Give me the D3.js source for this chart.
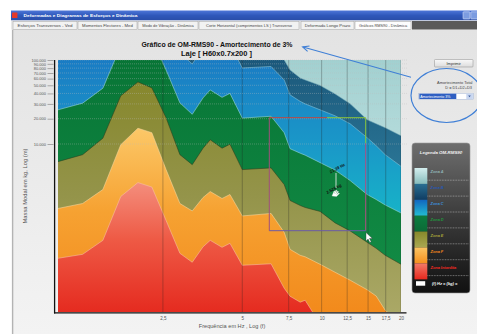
<!DOCTYPE html>
<html><head><meta charset="utf-8">
<script src="https://cdn.jsdelivr.net/npm/d3@7/dist/d3.min.js"></script>
<style>
html,body{margin:0;padding:0;background:#fff;overflow:hidden}
svg{display:block}
</style></head><body>
<svg id="chart" width="477" height="334"></svg>
<script>
// ---------- DATA ----------
const freqs = [1.00,1.24,1.48,1.73,2.01,2.27,2.57,2.90,3.23,3.55,3.78,4.19,4.49,5.00,6.43,7.21,7.59,8.29,8.66,9.87,11.25,12.83,14.88,16.10,17.42,20.00];
const zonaInterditaTop = [436,486,713,2371,3474,3073,1231,500,391,597,713,589,657,360,375,192,154,131,138,72,48,30,20,17,14,10];
const zonaFTop = [1708,1958,2870,9805,15400,13620,4955,1958,1595,2307,2717,2245,2504,1392,1490,887,557,473,454,370,297,239,184,155,105,72];
const zonaETop = [6166,7465,11720,37410,54830,46540,20510,7465,5681,8912,11240,8912,9940,4955,5191,3290,2125,1854,1755,1574,1150,924,675,573,473,370];
const zonaDTop = [25520,30640,46170,146600,214800,182400,76100,30890,22570,35420,44070,35910,40050,20340,21370,13620,8791,7777,7364,6000,4888,3669,2504,2184,1879,1510];
const zonaCTop = [108500,124400,182400,574000,842000,714600,298200,121100,89650,138800,172700,142600,154800,80375,83740,57910,38450,32180,30060,25520,21660,17410,11880,9541,7465,5423];
const zonaBTop = [250000,280000,400000,1000000,1500000,1300000,600000,250000,180000,280000,350000,290000,310000,160000,165000,100000,76100,61170,57910,49830,39510,30060,19420,17410,15610,12550];
const zoneNames = ["Zona A","Zona B","Zona C","Zona D","Zona E","Zona F","Zona Interdita"];
const xTicks = [2.5,5,7.5,10,12.5,15,17.5,20];
const yTicks = [10000,20000,30000,40000,50000,60000,70000,80000,90000,100000];
const tabLabels = ["Esforços Transversos  -  Ved","Momentos Flectores  - Med","Modo de Vibração - Dinâmica","Corte Horizontal (comprimentos LS )  Transverso","Deformada Longo Prazo","Gráficos RMS90 - Dinâmica"];
const windowTitle = "Deformadas e Diagramas de Esforços e Dinâmica";
const chartTitle = "Gráfico de OM-RMS90 - Amortecimento de 3%";
const chartSubtitle = "Laje [  H60x0.7x200  ]";
const xTitle = "Frequência em  Hz , Log (f)";
const yTitle = "Massa Modal  em  kg,  Log (m)";
const legendTitle = "Legenda OM-RMS90";
const cursorFreq = "21.39 Hz", cursorMass = "2.526 kg";

// ---------- SETUP ----------
const FONT = "'Liberation Sans', Arial, sans-serif";
const svg = d3.select("#chart").attr("font-family", FONT);
const defs = svg.append("defs");
function grad(id, y1, y2, stops, bbox){
  const g = defs.append("linearGradient").attr("id", id).attr("x1",0).attr("x2",0);
  if(!bbox) g.attr("gradientUnits","userSpaceOnUse").attr("y1",y1).attr("y2",y2);
  else g.attr("y1",0).attr("y2",1);
  stops.forEach(([o,c])=>g.append("stop").attr("offset",o).attr("stop-color",c));
}

// ---------- WINDOW CHROME ----------
svg.append("rect").attr("width",477).attr("height",334).attr("fill","#fff");
grad("bgGrad",30,334,[[0,"#e3e3e3"],[1,"#f3f3f3"]]);
svg.append("rect").attr("x",12).attr("y",29.5).attr("width",465).attr("height",305).attr("fill","url(#bgGrad)");
svg.append("line").attr("x1",12.6).attr("x2",12.6).attr("y1",29.5).attr("y2",334).attr("stroke","#b3b3b3").attr("stroke-width",1.4);

grad("tbGrad",10.5,20.5,[[0,"#4d76d8"],[0.5,"#2f58ba"],[1,"#2a4ea8"]]);
svg.append("rect").attr("x",11).attr("y",10.5).attr("width",466).attr("height",10).attr("fill","url(#tbGrad)");
svg.append("rect").attr("x",12).attr("y",12.6).attr("width",5.4).attr("height",5.4).attr("rx",0.6).attr("fill","#e5392a");
svg.append("text").attr("x",23.5).attr("y",17.3).attr("font-size",4.3).attr("font-weight","bold").attr("fill","#fff")
  .attr("textLength",114).attr("lengthAdjust","spacingAndGlyphs").text(windowTitle);
[[463,7],[470.8,7]].forEach(([bx,bw])=>svg.append("rect").attr("x",bx).attr("y",11.8).attr("width",bw).attr("height",7.2).attr("rx",0.8)
  .attr("fill","#7c9ce0").attr("stroke","#e8efff").attr("stroke-width",0.5));

// tabs
svg.append("rect").attr("x",11).attr("y",20.5).attr("width",466).attr("height",9).attr("fill","#e9e9e9");
const tabX = [[13,77],[78,137],[138,198],[199,299],[301,354],[355,411]];
svg.append("rect").attr("x",412).attr("y",21).attr("width",65).attr("height",8.5).attr("fill","#5a5a5a");
tabLabels.forEach((t,i)=>{
  const [a,b] = tabX[i];
  svg.append("rect").attr("x",a).attr("y",21.3).attr("width",b-a).attr("height",8.2)
    .attr("fill", i===5 ? "#fdfdfd" : "#f2f2f2").attr("stroke","#a0a0a0").attr("stroke-width",0.5);
  svg.append("text").attr("x",(a+b)/2).attr("y",26.9).attr("text-anchor","middle").attr("font-size",3.5).attr("fill","#444")
    .attr("textLength",(b-a)*0.86).attr("lengthAdjust","spacingAndGlyphs").text(t);
});

// ---------- CHART ----------
const pl = 58, pr = 401, pt = 60, pb = 312;
const x = d3.scaleLog().domain([1,20]).range([pl,pr]);
const y = d3.scaleLog().domain([100,100000]).range([pb,pt]);

defs.append("clipPath").attr("id","plotClip").append("rect").attr("x",pl).attr("y",pt).attr("width",pr-pl).attr("height",pb-pt);

grad("gA",60,150,[[0,"#a2d0d0"],[1,"#b6dcdc"]]);
grad("gB",60,170,[[0,"#1b587b"],[1,"#2a7595"]]);
grad("gC",60,215,[[0,"#1a7cc4"],[0.55,"#1a98c8"],[1,"#17b3c8"]]);
grad("gD",60,265,[[0,"#087536"],[1,"#118a44"]]);
grad("gE",80,312,[[0,"#86872c"],[0.5,"#94944a"],[1,"#aaa866"]]);
grad("gF",128,312,[[0,"#fcc868"],[0.45,"#f6a232"],[1,"#f28a1c"]]);
grad("gR",180,312,[[0,"#f4907f"],[0.45,"#ee5a45"],[1,"#e52b20"]]);

const zones = [
  {top: zonaBTop, fill:"url(#gB)", line:"#6fa6b4"},
  {top: zonaCTop, fill:"url(#gC)", line:"#8cc6d8"},
  {top: zonaDTop, fill:"url(#gD)", line:"#a6dce4"},
  {top: zonaETop, fill:"url(#gE)", line:"#2e3a1c"},
  {top: zonaFTop, fill:"url(#gF)", line:"#fcd9a2"},
  {top: zonaInterditaTop, fill:"url(#gR)", line:"#f8c4aa"}
];

const gPlot = svg.append("g").attr("clip-path","url(#plotClip)");
gPlot.append("rect").attr("x",pl).attr("y",pt).attr("width",pr-pl).attr("height",pb-pt).attr("fill","url(#gA)");
const area = d3.area().x((d,i)=>x(freqs[i])).y0(pb+20).y1(d=>y(d));
const line = d3.line().x((d,i)=>x(freqs[i])).y(d=>y(d));
zones.forEach(z=>{
  gPlot.append("path").datum(z.top).attr("d",area).attr("fill",z.fill);
});
zones.forEach(z=>{
  gPlot.append("path").datum(z.top).attr("d",line).attr("fill","none").attr("stroke",z.line).attr("stroke-width",0.6).attr("opacity",0.9);
});

// vertical gridlines
gPlot.selectAll(".vg").data(xTicks).enter().append("line")
  .attr("x1",d=>x(d)).attr("x2",d=>x(d)).attr("y1",pt).attr("y2",pb)
  .attr("stroke","#1e1e1e").attr("stroke-opacity",0.32).attr("stroke-width",0.9);
// horizontal dotted gridlines
svg.append("g").selectAll("line").data(yTicks).enter().append("line")
  .attr("x1",pl).attr("x2",407).attr("y1",d=>y(d)).attr("y2",d=>y(d))
  .attr("stroke","#bdbdbd").attr("stroke-opacity",0.6).attr("stroke-width",0.6).attr("stroke-dasharray","1,1");

// axes
const yAxis = d3.axisLeft(y).tickValues(yTicks).tickSize(6).tickPadding(1.6)
  .tickFormat(d=>d3.format(",")(d).replace(/,/g,"."));
const gy = svg.append("g").attr("transform","translate(53.5,0)").call(yAxis)
  .attr("font-size",4).attr("font-family",FONT);
gy.select(".domain").remove();
gy.selectAll("line").attr("stroke","#7a7a7a").attr("stroke-width",0.6);
gy.selectAll("text").attr("fill","#555");

const xAxis = d3.axisBottom(x).tickValues(xTicks).tickSize(0).tickPadding(3.9)
  .tickFormat(d=>String(d).replace(".",","));
const gx = svg.append("g").attr("transform",`translate(0,${pb+1})`).call(xAxis)
  .attr("font-size",4.5).attr("font-family",FONT);
gx.select(".domain").remove();
gx.selectAll("text").attr("fill","#555");

svg.append("line").attr("x1",54.6).attr("x2",54.6).attr("y1",pt).attr("y2",pb+1.5).attr("stroke","#111").attr("stroke-width",1.3);
svg.append("line").attr("x1",54).attr("x2",406.5).attr("y1",pb+0.9).attr("y2",pb+0.9).attr("stroke","#111").attr("stroke-width",1.3);

svg.append("text").attr("x",232).attr("y",328).attr("text-anchor","middle").attr("font-size",5.6).attr("fill","#555").text(xTitle);
svg.append("text").attr("transform","translate(27,186) rotate(-90)").attr("text-anchor","middle").attr("font-size",5.8).attr("fill","#555").text(yTitle);

// titles
svg.append("text").attr("x",217).attr("y",47.4).attr("text-anchor","middle").attr("font-size",6.8).attr("font-weight","bold").attr("fill","#111")
  .attr("textLength",151).attr("lengthAdjust","spacingAndGlyphs").text(chartTitle);
svg.append("text").attr("x",216.5).attr("y",55.8).attr("text-anchor","middle").attr("font-size",6.8).attr("font-weight","bold").attr("fill","#111")
  .attr("textLength",71).attr("lengthAdjust","spacingAndGlyphs").text(chartSubtitle);

// selection rectangle annotation
const sel = {x0: 269.3, x1: 365.7, y0: 117.7, y1: 230.7, xm: 327, ym: 143.3};
const segs = [
  [sel.x0,sel.y0,sel.x0,sel.y1,"#a0507c"],
  [sel.x0,sel.y0,sel.xm,sel.y0,"#c4443e"],
  [sel.xm,sel.y0,sel.x1,sel.y0,"#8cc43c"],
  [sel.x1,sel.y0,sel.x1,sel.ym,"#8cc43c"],
  [sel.x1,sel.ym,sel.x1,sel.y1,"#b04c80"],
  [sel.x0,sel.y1,sel.x1,sel.y1,"#6a5aa8"]
];
segs.forEach(s=>svg.append("line").attr("x1",s[0]).attr("y1",s[1]).attr("x2",s[2]).attr("y2",s[3]).attr("stroke",s[4]).attr("stroke-width",1));
svg.append("text").attr("transform","translate(338,169.5) rotate(-28)").attr("text-anchor","middle").attr("font-size",4.2).attr("font-weight","bold").attr("fill","#111").text(cursorFreq);
svg.append("line").attr("x1",336).attr("x2",336).attr("y1",173).attr("y2",188).attr("stroke","#f4f4f4").attr("stroke-width",0.8);
svg.append("text").attr("transform","translate(334.5,190) rotate(-28)").attr("text-anchor","middle").attr("font-size",4.2).attr("font-weight","bold").attr("fill","#111").text(cursorMass);
svg.append("path").attr("d","M332,196 l2,-5 l1,0 l-1,3 l2,-4 l1,0.5 l-1.5,3.5 l2.2,-3 l0.8,0.6 l-2,3.2 l2.4,-2 l0.6,0.7 l-3,3 z")
  .attr("fill","#fff").attr("stroke","#ddd").attr("stroke-width",0.3);
svg.append("path").attr("d","M366,232.5 l0,8.6 l2.1,-2 l1.7,3.4 l1.4,-0.7 l-1.7,-3.3 l2.9,0 z")
  .attr("fill","#fff").attr("stroke","#333").attr("stroke-width",0.4);

// ---------- RIGHT PANEL ----------
grad("btnGrad",59,67,[[0,"#fbfbfb"],[1,"#dcdcdc"]]);
svg.append("rect").attr("x",434.5).attr("y",59.5).attr("width",38.5).attr("height",7.5).attr("rx",0.8).attr("fill","url(#btnGrad)").attr("stroke","#8d8d8d").attr("stroke-width",0.5);
svg.append("text").attr("x",453.7).attr("y",64.6).attr("text-anchor","middle").attr("font-size",4).attr("fill","#333").text("Imprimir");
svg.append("text").attr("x",472.5).attr("y",83.5).attr("text-anchor","end").attr("font-size",3.9).attr("fill","#444").text("Amortecimento  Total");
svg.append("text").attr("x",472).attr("y",88.8).attr("text-anchor","end").attr("font-size",3.9).attr("fill","#444").text("D = D1+D2+D3");
svg.append("rect").attr("x",418.8).attr("y",93.2).attr("width",54.5).attr("height",6.3).attr("fill","#fff").attr("stroke","#8aa0c8").attr("stroke-width",0.4);
svg.append("rect").attr("x",419.3).attr("y",93.7).attr("width",37).attr("height",5.3).attr("fill","#2f5fc2");
svg.append("text").attr("x",420.2).attr("y",97.7).attr("font-size",3.6).attr("fill","#fff").text("Amortecimento  3%");
svg.append("rect").attr("x",466.3).attr("y",93.7).attr("width",6.6).attr("height",5.3).attr("fill","#c8d6f0");
svg.append("path").attr("d","M468.2,95.6 l2.6,0 l-1.3,1.6 z").attr("fill","#3a5a9a");

// blue ellipse + arrow
svg.append("ellipse").attr("cx",446.5).attr("cy",95.5).attr("rx",35.5).attr("ry",27).attr("fill","none").attr("stroke","#3f7fd6").attr("stroke-width",1.2);
svg.append("line").attr("x1",411).attr("y1",77.2).attr("x2",303).attr("y2",47).attr("stroke","#3f7fd6").attr("stroke-width",1.1);
svg.append("path").attr("d","M309.5,46 L302.6,46.9 L307.6,51.4").attr("fill","none").attr("stroke","#3f7fd6").attr("stroke-width",1.1);

// legend
grad("legBg",143,293,[[0,"#6e6e6e"],[0.5,"#3a3a3a"],[1,"#111"]]);
svg.append("rect").attr("x",412).attr("y",143).attr("width",58).attr("height",150).attr("rx",3).attr("fill","url(#legBg)").attr("stroke","#9a9a9a").attr("stroke-width",0.6);
svg.append("text").attr("x",441).attr("y",154).attr("text-anchor","middle").attr("font-size",4.4).attr("font-style","italic").attr("font-weight","bold").attr("fill","#f2f2f2").text(legendTitle);
const legStops = [
  ["#d4eeee","#86bcbc"],["#2a6f92","#0f3c62"],["#1166c0","#22bcd2"],["#0b7d40","#0b6a36"],
  ["#87882a","#aaa852"],["#fcc462","#f5901e"],["#f27a68","#e8281e"]];
const legText = ["#8fb4b4","#2a58b0","#3d8ed6","#22963e","#a4a23a","#f3861c","#f42a22"];
zoneNames.forEach((n,i)=>{
  const top = 168 + i*15.9;
  grad("lg"+i,0,0,[[0,legStops[i][0]],[1,legStops[i][1]]],true);
  svg.append("rect").attr("x",414.5).attr("y",top).attr("width",12.8).attr("height",15.95).attr("fill",`url(#lg${i})`);
  svg.append("text").attr("x",430.5).attr("y",top+5.2).attr("font-size",3.9).attr("font-style","italic").attr("font-weight","bold").attr("fill",legText[i]).text(n);
  svg.append("line").attr("x1",427.5).attr("x2",469).attr("y1",top+12.2).attr("y2",top+12.2).attr("stroke","#e6e6e6").attr("stroke-width",0.5).attr("stroke-dasharray","0.8,0.8");
});
svg.append("rect").attr("x",416).attr("y",281.2).attr("width",9.2).attr("height",4.5).attr("fill","#fff");
svg.append("text").attr("x",432).attr("y",285.2).attr("font-size",4).attr("font-style","italic").attr("font-weight","bold").attr("fill","#fff").text("(f) Hz =   (kg) =");
</script>
</body></html>
